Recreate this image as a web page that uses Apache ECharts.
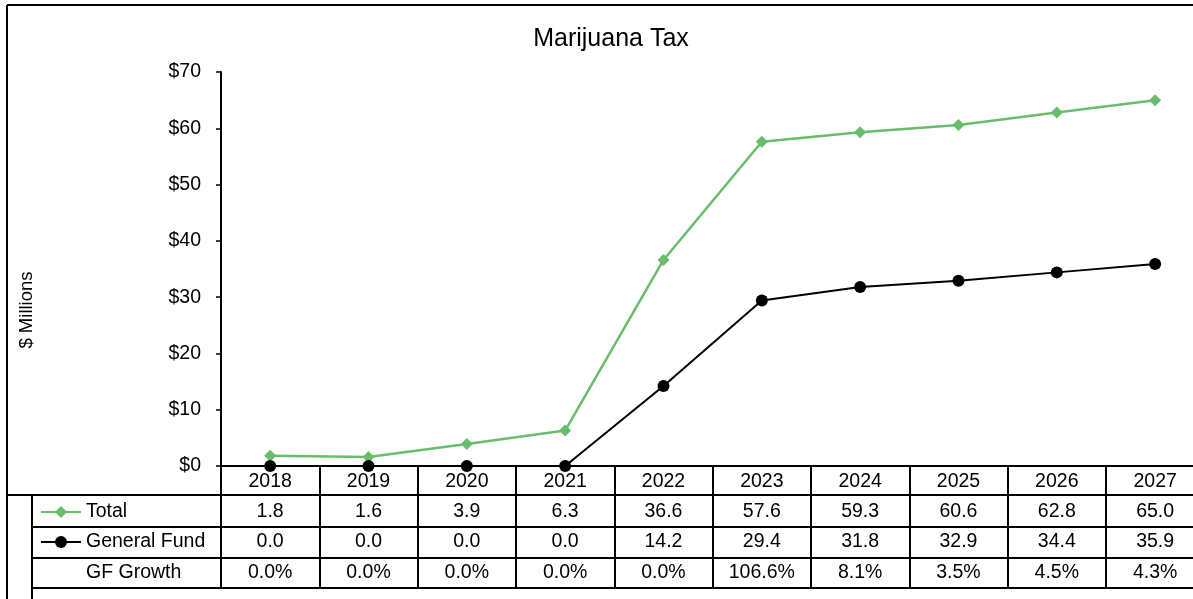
<!DOCTYPE html>
<html>
<head>
<meta charset="utf-8">
<script src="https://cdn.jsdelivr.net/npm/echarts@6/dist/echarts.min.js"></script>
<style>
html,body{margin:0;padding:0;background:#fff;}
#chart{width:1193px;height:599px;}
</style>
</head>
<body>
<div id="chart"></div>
<script>
const years = ['2018','2019','2020','2021','2022','2023','2024','2025','2026','2027'];
const total = [1.8, 1.6, 3.9, 6.3, 36.6, 57.6, 59.3, 60.6, 62.8, 65.0];
const generalFund = [0.0, 0.0, 0.0, 0.0, 14.2, 29.4, 31.8, 32.9, 34.4, 35.9];
const gfGrowth = ['0.0%','0.0%','0.0%','0.0%','0.0%','106.6%','8.1%','3.5%','4.5%','4.3%'];
const yTicks = [0, 10, 20, 30, 40, 50, 60, 70];

const GREEN = '#69BD6A';
const FONT = 'Liberation Sans, Arial, sans-serif';
const TFS = 19.5;

const chart = echarts.init(document.getElementById('chart'), null, {renderer: 'canvas'});

const option = {
  animation: false,
  backgroundColor: '#fff',
  title: {
    text: 'Marijuana Tax',
    left: 606, top: 22, textAlign: 'center',
    textStyle: {fontFamily: FONT, fontSize: 25, fontWeight: 'normal', color: '#000'}
  },
  grid: {left: 221, top: 72, bottom: 133, width: 983.3, containLabel: false, outerBoundsMode: 'none'},
  xAxis: {
    type: 'category',
    data: years,
    boundaryGap: true,
    axisLine: {lineStyle: {color: '#000', width: 2}},
    axisTick: {show: true, inside: false, length: 122, interval: 0, lineStyle: {color: '#000', width: 2}},
    axisLabel: {margin: 6, fontFamily: FONT, fontSize: TFS, color: '#000', interval: 0},
    splitLine: {show: false}
  },
  yAxis: {
    type: 'value',
    min: yTicks[0], max: yTicks[yTicks.length - 1], interval: 10,
    axisLine: {show: true, lineStyle: {color: '#000', width: 2}},
    axisTick: {show: true, inside: false, length: 5, lineStyle: {color: '#000', width: 1.5}},
    axisLabel: {margin: 20, fontFamily: FONT, fontSize: TFS, color: '#000', formatter: v => '$' + v},
    splitLine: {show: false}
  },
  series: [
    {
      name: 'Total', type: 'line', data: total,
      symbol: 'diamond', symbolSize: 12,
      itemStyle: {color: GREEN},
      lineStyle: {color: GREEN, width: 2.5},
      z: 3
    },
    {
      name: 'General Fund', type: 'line', data: generalFund,
      symbol: 'circle', symbolSize: 12,
      itemStyle: {color: '#000'},
      lineStyle: {color: '#000', width: 2},
      z: 4
    }
  ]
};
chart.setOption(option);

// Data table drawn beneath the x axis, columns aligned with the category axis
const rowY = [512, 542, 573];
const rowLinesY = [495, 527, 558, 588];
const elements = [];
const lineStyle = {stroke: '#000', lineWidth: 2};

// y axis name
elements.push({
  type: 'text', x: 27, y: 310, rotation: Math.PI / 2, silent: true,
  style: {text: '$ Millions', fill: '#000', font: '18.5px ' + FONT, align: 'center', verticalAlign: 'middle'}
});

// outer frame
elements.push({type: 'line', shape: {x1: 7, y1: 5, x2: 1193, y2: 5}, style: lineStyle, silent: true});
elements.push({type: 'line', shape: {x1: 7, y1: 5, x2: 7, y2: 599}, style: lineStyle, silent: true});
// header bottom line spans whole width
elements.push({type: 'line', shape: {x1: 7, y1: rowLinesY[0], x2: 1193, y2: rowLinesY[0]}, style: lineStyle, silent: true});
for (let k = 1; k < rowLinesY.length; k++) {
  elements.push({type: 'line', shape: {x1: 32, y1: rowLinesY[k], x2: 1193, y2: rowLinesY[k]}, style: lineStyle, silent: true});
}
// legend column left border
elements.push({type: 'line', shape: {x1: 32, y1: rowLinesY[0], x2: 32, y2: 599}, style: lineStyle, silent: true});

const rows = [
  total.map(v => v.toFixed(1)),
  generalFund.map(v => v.toFixed(1)),
  gfGrowth
];
rows.forEach((row, r) => {
  row.forEach((txt, i) => {
    const x = chart.convertToPixel({xAxisIndex: 0}, years[i]);
    elements.push({
      type: 'text', x: x, y: rowY[r], silent: true,
      style: {text: txt, fill: '#000', font: TFS + 'px ' + FONT, align: 'center', verticalAlign: 'middle'}
    });
  });
});

// legend keys in table
const legendItems = [
  {label: 'Total', color: GREEN, symbol: 'diamond'},
  {label: 'General Fund', color: '#000', symbol: 'circle'},
  {label: 'GF Growth', color: null}
];
legendItems.forEach((it, r) => {
  const y = rowY[r];
  if (it.color) {
    elements.push({type: 'line', shape: {x1: 41, y1: y, x2: 81, y2: y}, style: {stroke: it.color, lineWidth: 2}, silent: true});
    if (it.symbol === 'circle') {
      elements.push({type: 'circle', shape: {cx: 61, cy: y, r: 6}, style: {fill: it.color}, silent: true});
    } else {
      elements.push({type: 'polygon', shape: {points: [[61, y - 6], [67, y], [61, y + 6], [55, y]]}, style: {fill: it.color}, silent: true});
    }
  }
  elements.push({
    type: 'text', x: 86, y: y, silent: true,
    style: {text: it.label, fill: '#000', font: TFS + 'px ' + FONT, align: 'left', verticalAlign: 'middle'}
  });
});

chart.setOption({graphic: {elements: elements}});
</script>
</body>
</html>
